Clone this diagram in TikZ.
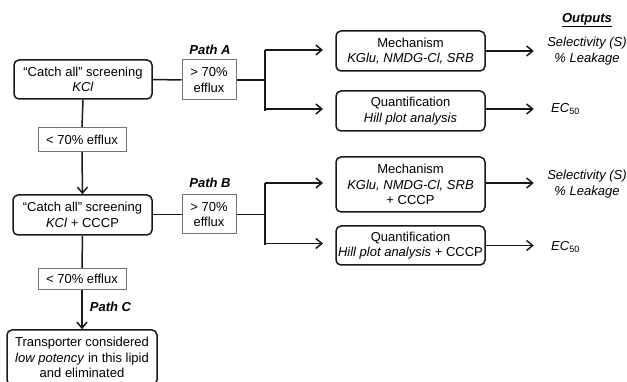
\documentclass[tikz,border=0pt]{standalone}
\usepackage{fontspec}
\setmainfont{Liberation Sans}
\usetikzlibrary{arrows.meta}
\begin{document}
\begin{tikzpicture}[x=1pt,y=-1pt,
  every node/.style={font=\fontsize{13}{15.5}\selectfont, inner sep=0pt, align=center},
  mainbox/.style={draw=black!90, line width=1.5pt, rounded corners=5pt},
  effbox/.style={draw=black!55, line width=1pt},
  conn/.style={line width=1.5pt, draw=black!90},
  arr/.style={line width=1.5pt, draw=black!90, -{Straight Barb[length=6pt,width=10pt,line width=1.5pt]}},
  lab/.style={font=\fontsize{13}{15.5}\selectfont\bfseries\itshape}
]
\useasboundingbox (0,0) rectangle (627,382);
% left column
\node[mainbox, minimum width=138pt, minimum height=39pt] (s1) at (83,79.5) {``Catch all'' screening\\\textit{KCl}};
\node[effbox, minimum width=54pt, minimum height=40pt] (eA) at (209,80) {> 70\%\\efflux};
\node[lab] (pA) at (210,50) {Path A};
\node[effbox, minimum width=88pt, minimum height=24pt] (l1) at (82,139.5) {< 70\% efflux};
\node[mainbox, minimum width=139pt, minimum height=40pt] (s2) at (82.5,215) {``Catch all'' screening\\\textit{KCl} + CCCP};
\node[effbox, minimum width=54pt, minimum height=39pt] (eB) at (209,214.5) {> 70\%\\efflux};
\node[lab] (pB) at (210,183) {Path B};
\node[effbox, minimum width=88pt, minimum height=21pt] (l2) at (82,279) {< 70\% efflux};
\node[lab] (pC) at (110.5,307) {Path C};
\node[mainbox, minimum width=150pt, minimum height=55pt] (s3) at (82,357.5) {Transporter considered\\\textit{low potency} in this lipid\\and eliminated};
% right column
\node[mainbox, minimum width=149pt, minimum height=40pt] (mA) at (410.5,51) {Mechanism\\\textit{KGlu, NMDG-Cl, SRB}};
\node[mainbox, minimum width=149pt, minimum height=40pt] (qA) at (410.5,111) {Quantification\\\textit{Hill plot analysis}};
\node[mainbox, minimum width=149pt, minimum height=55pt] (mB) at (410.5,184.5) {Mechanism\\\textit{KGlu, NMDG-Cl, SRB}\\+ CCCP};
\node[mainbox, minimum width=149pt, minimum height=39pt] (qB) at (410.5,245.5) {Quantification\\\textit{Hill plot analysis} + CCCP};
% outputs
\node[lab] (out) at (587,20) {\underline{Outputs}};
\node (oA) at (587,51) {\textit{Selectivity (S)}\\\textit{\% Leakage}};
\node[anchor=west] (eA50) at (551,109) {\textit{EC}\textsubscript{50}};
\node (oB) at (587,184) {\textit{Selectivity (S)}\\\textit{\% Leakage}};
\node[anchor=west] (eB50) at (551,247) {\textit{EC}\textsubscript{50}};
% branch points
\coordinate (jA) at (265,80);
\coordinate (jB) at (265,214.5);
% connectors left
\draw[conn] (s1.east) -- (eA.west);
\draw[conn] (eA.east) -- (jA);
\draw[conn] (s1.south) -- (l1.north);
\draw[arr] (l1.south) -- (s2.north);
\draw[conn] (s2.east |- eB.west) -- (eB.west);
\draw[conn] (eB.east) -- (jB);
\draw[conn] (s2.south) -- (l2.north);
\draw[arr] (l2.south) -- (s3.north);
% branches
\draw[conn] (jA |- mA.west) ++(0,-1) -- (jA |- qA.west);
\draw[arr, shorten >=13pt] (jA |- mA.west) ++(0,-1) -- ++(71,0);
\draw[arr, shorten >=13pt] (jA |- qA.west) ++(0,-2) -- ++(71,0);
\draw[conn] (jB |- mB.west) ++(0,-1.5) -- (jB |- qB.west);
\draw[arr, shorten >=13pt] (jB |- mB.west) ++(0,-1.5) -- ++(71,0);
\draw[arr, shorten >=13pt] (jB |- qB.west) ++(0,-2) -- ++(71,0);
% outputs arrows
\draw[arr] (mA.east) -- ++(48,0);
\draw[arr] (qA.east) ++(0,-2) -- ++(48,0);
\draw[arr] (mB.east) ++(0,-1.5) -- ++(48,0);
\draw[arr] (qB.east) -- ++(48,0);
\end{tikzpicture}
\end{document}
